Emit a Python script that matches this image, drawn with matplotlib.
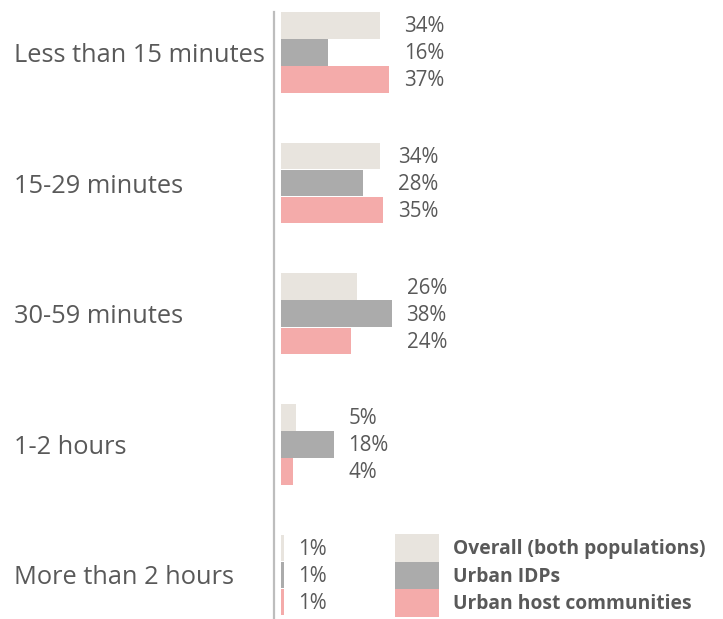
import matplotlib.pyplot as plt
from matplotlib.patches import Patch

plt.rcParams["font.family"] = ["Open Sans", "DejaVu Sans"]

categories = ["Less than 15 minutes", "15-29 minutes", "30-59 minutes", "1-2 hours", "More than 2 hours"]
series_names = ["Overall (both populations)", "Urban IDPs", "Urban host communities"]
overall = [34, 34, 26, 5, 1]
idps = [16, 28, 38, 18, 1]
hosts = [37, 35, 24, 4, 1]

colors = ["#E8E4DE", "#ABABAB", "#F4ABAA"]
text_c = "#595959"

W, H = 723, 619
fig = plt.figure(figsize=(W / 100, H / 100), dpi=100)

# axes: left spine sits a little left of the bar origin
px_per_unit = 2.92
ax_left = 273.5
ax = fig.add_axes([ax_left / W, 0, 1 - ax_left / W, (H - 12) / H])
x0 = -(281 - ax_left) / px_per_unit
ax.set_xlim(x0, x0 + (W - ax_left) / px_per_unit)

bh = 0.207
ax.set_ylim(4.337, -0.31)

values = [overall, idps, hosts]
for i, vals in enumerate(values):
    ys = [k + (i - 1) * bh for k in range(len(categories))]
    ax.barh(ys, vals, height=bh * 0.98, color=colors[i], left=0)

# value labels, left aligned in a column after the longest bar of each group
for k in range(len(categories)):
    col_x = max(v[k] for v in values) + 5
    for i, vals in enumerate(values):
        ax.text(col_x, k + (i - 1) * bh + 0.01, f"{vals[k]}%", ha="left", va="center",
                fontsize=14.8, color=text_c)

for s in ["top", "right", "bottom"]:
    ax.spines[s].set_visible(False)
ax.spines["left"].set_color("#BDBDBD")
ax.spines["left"].set_linewidth(1.6)
ax.set_xticks([])

ax.set_yticks(range(len(categories)))
ax.set_yticklabels(categories, fontsize=18.3, color=text_c)
ax.tick_params(axis="y", length=0, pad=(ax_left - 14) * 72 / 100)
for lbl in ax.get_yticklabels():
    lbl.set_ha("left")

# legend: patches ~27 px tall, stacked without gaps
handles = [Patch(facecolor=c, edgecolor="none") for c in colors]
ax.legend(handles, series_names, loc="upper left",
          bbox_to_anchor=(395 / W, 1 - 534 / H), bbox_transform=fig.transFigure,
          frameon=False, borderpad=0, borderaxespad=0,
          handlelength=2.3, handleheight=1.82, labelspacing=0, handletextpad=0.72,
          prop=dict(weight="bold", size=13.9), labelcolor=text_c)

fig.savefig("out.png", dpi=100)
